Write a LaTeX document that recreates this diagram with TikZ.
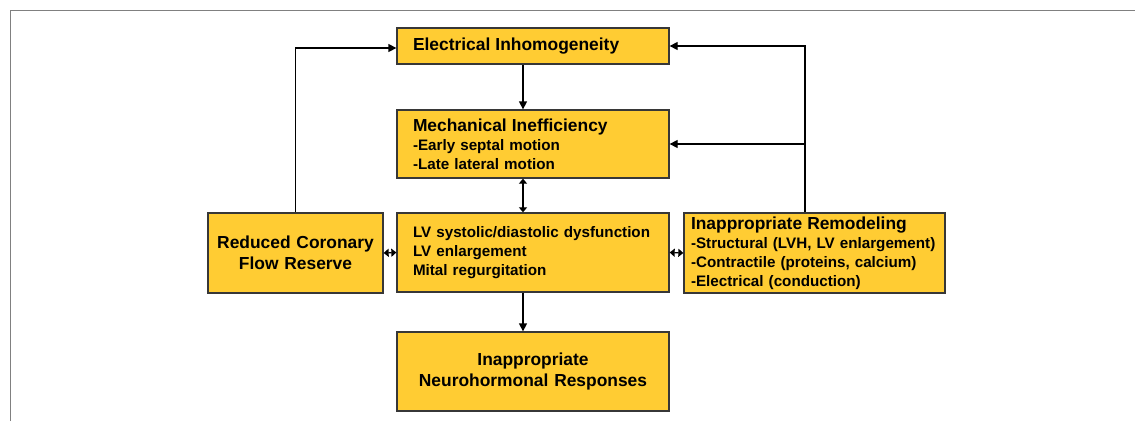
\documentclass[tikz,border=0pt]{standalone}
\usepackage{fontspec}
\setmainfont{Liberation Sans}
\usetikzlibrary{arrows.meta}
\definecolor{boxfill}{RGB}{255,204,51}
\definecolor{boxline}{RGB}{55,55,55}
\newcommand{\head}[1]{{\fontsize{17.4}{19}\selectfont #1}}
\tikzset{
  block/.style={draw=boxline, fill=boxfill, line width=1.3pt, align=left,
    font=\fontsize{15.2}{19}\selectfont\bfseries, inner ysep=0pt},
  link/.style={line width=1.3pt, -{Triangle[length=8pt,width=8pt]}},
  twoway/.style={line width=1.3pt, {Triangle[length=5pt,width=8pt]}-{Triangle[length=5pt,width=8pt]}},
}
\begin{document}
\begin{tikzpicture}[x=1pt, y=-1pt]
    \useasboundingbox (0,0) rectangle (1135,421);
    \draw[gray, line width=1pt] (10,421) -- (10,10) -- (1135,10);
    % central column
    \node[block, minimum height=36pt, text width=240pt, inner xsep=16pt] (elec) at (533,46) {\head{Electrical Inhomogeneity}};
    \node[block, minimum height=68pt, text width=240pt, inner xsep=16pt] (mech) at (533,144) {\head{Mechanical Inefficiency}\\-Early septal motion\\-Late lateral motion};
    \node[block, minimum height=79pt, text width=240pt, inner xsep=16pt] (lvd) at (533,252.5) {LV systolic/diastolic dysfunction\\LV enlargement\\Mital regurgitation};
    \node[block, minimum height=79pt, text width=240pt, inner xsep=16pt, align=center, font=\fontsize{17.4}{21}\selectfont\bfseries] (neuro) at (533,371.5) {Inappropriate\\Neurohormonal Responses};
    % side boxes
    \node[block, minimum height=80pt, text width=161pt, inner xsep=7pt, align=center, font=\fontsize{17.4}{21}\selectfont\bfseries] (coron) at (295.5,253) {Reduced Coronary\\Flow Reserve};
    \node[block, minimum height=80pt, text width=247pt, inner xsep=7pt] (remod) at (814.5,253) {\head{Inappropriate Remodeling}\\-Structural (LVH, LV enlargement)\\-Contractile (proteins, calcium)\\-Electrical (conduction)};
    \coordinate (trunk) at ([xshift=-9.5pt]remod.north);
    % connectors
    \draw[link] (coron.north) |- ([yshift=-2pt]elec.west);
    \draw[link] (trunk) |- (elec.east);
    \draw[link] (trunk |- mech.east) -- (mech.east);
    \draw[link] ([xshift=-10pt]elec.south) -- ([xshift=-10pt]mech.north);
    \draw[twoway] ([xshift=-10pt]mech.south) -- ([xshift=-10pt]lvd.north);
    \draw[link] ([xshift=-10pt]lvd.south) -- ([xshift=-10pt]neuro.north);
    \draw[twoway] (coron.east) -- (lvd.west);
    \draw[twoway] (lvd.east) -- (remod.west);
\end{tikzpicture}
\end{document}
